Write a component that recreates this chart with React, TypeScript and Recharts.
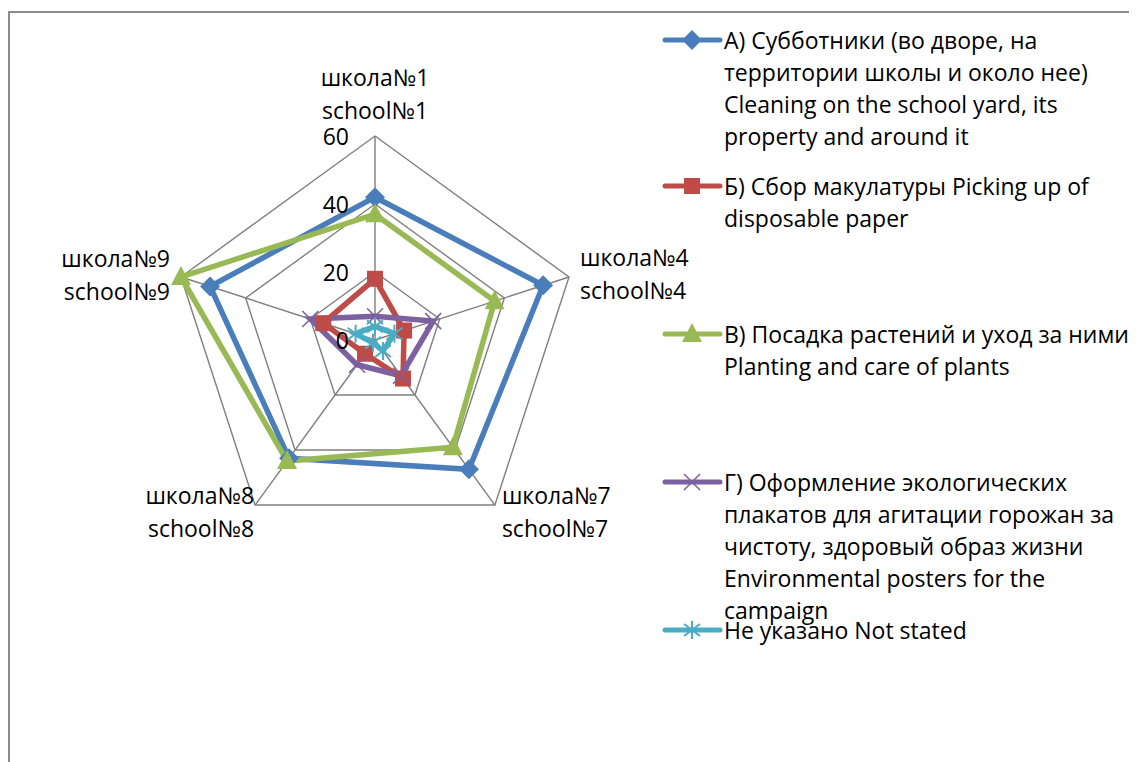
import React from 'react';
import {
  RadarChart,
  Radar,
  PolarGrid,
  PolarAngleAxis,
  PolarRadiusAxis,
  Legend,
} from 'recharts';

// School names, two lines each
const schoolsRu = ['школа№1', 'школа№4', 'школа№7', 'школа№8', 'школа№9'];
const schoolsEn = ['school№1', 'school№4', 'school№7', 'school№8', 'school№9'];

// Answers per activity, one value per school
const cleaning = [42, 52, 47, 43, 51];
const paper = [18, 9, 14, 5, 16];
const planting = [37, 37, 39, 44, 60];
const posters = [7, 18, 13, 9, 20];
const notStated = [4, 6, 4, 1, 6];

const radiusTicks = [0, 20, 40, 60];

const data = schoolsRu.map((s, i) => ({
  school: s,
  cleaning: cleaning[i],
  paper: paper[i],
  planting: planting[i],
  posters: posters[i],
  notStated: notStated[i],
}));

const FONT = '"Open Sans", sans-serif';
const FS = 23;
const CX = 365;
const CY = 327;
const R = 204;

type MarkerKind = 'diamond' | 'square' | 'triangle' | 'cross' | 'star';

const Marker = ({ kind, x, y, color }: { kind: MarkerKind; x: number; y: number; color: string }) => {
  switch (kind) {
    case 'diamond':
      return <polygon points={`${x},${y - 10} ${x + 10},${y} ${x},${y + 10} ${x - 10},${y}`} fill={color} />;
    case 'square':
      return <rect x={x - 8} y={y - 8} width={16} height={16} fill={color} />;
    case 'triangle':
      return <polygon points={`${x},${y - 11} ${x + 10},${y + 8} ${x - 10},${y + 8}`} fill={color} />;
    case 'cross':
      return (
        <g stroke={color} strokeWidth={1.6}>
          <line x1={x - 8} y1={y - 8} x2={x + 8} y2={y + 8} />
          <line x1={x - 8} y1={y + 8} x2={x + 8} y2={y - 8} />
        </g>
      );
    default:
      return (
        <g stroke={color} strokeWidth={2}>
          <line x1={x} y1={y - 9} x2={x} y2={y + 9} />
          <line x1={x - 8} y1={y - 6} x2={x + 8} y2={y + 6} />
          <line x1={x - 8} y1={y + 6} x2={x + 8} y2={y - 6} />
        </g>
      );
  }
};

const series: { key: string; color: string; marker: MarkerKind; lines: string[]; top: number }[] = [
  {
    key: 'cleaning',
    color: '#4A7EBB',
    marker: 'diamond',
    lines: [
      'А) Субботники (во дворе, на',
      'территории школы и около нее)',
      'Cleaning on the school yard, its',
      'property and around it',
    ],
    top: 27,
  },
  {
    key: 'paper',
    color: '#BE4B48',
    marker: 'square',
    lines: ['Б) Сбор макулатуры  Picking up of', 'disposable paper'],
    top: 173,
  },
  {
    key: 'planting',
    color: '#98B954',
    marker: 'triangle',
    lines: ['В) Посадка растений и уход за ними', 'Planting and care of plants'],
    top: 321,
  },
  {
    key: 'posters',
    color: '#7D60A0',
    marker: 'cross',
    lines: [
      'Г) Оформление экологических',
      'плакатов для агитации горожан за',
      'чистоту, здоровый образ жизни',
      'Environmental posters for the',
      'campaign',
    ],
    top: 469,
  },
  {
    key: 'notStated',
    color: '#4BACC6',
    marker: 'star',
    lines: ['Не указано Not stated'],
    top: 617,
  },
];

// label placement around each pentagon corner
const labelPos = [
  { dx: 0, dy: -59, anchor: 'middle' },
  { dx: 11, dy: -20, anchor: 'start' },
  { dx: 7, dy: -10, anchor: 'start' },
  { dx: -1, dy: -10, anchor: 'end' },
  { dx: -11, dy: -19, anchor: 'end' },
];

const AngleTick = (props: any) => {
  const i = props.index;
  const a = ((90 - i * 72) * Math.PI) / 180;
  const vx = CX + R * Math.cos(a);
  const vy = CY - R * Math.sin(a);
  const p = labelPos[i];
  return (
    <text
      x={vx + p.dx}
      y={vy + p.dy}
      textAnchor={p.anchor as any}
      dominantBaseline="central"
      fontFamily={FONT}
      fontSize={FS}
      fill="#000"
    >
      <tspan x={vx + p.dx} dy={0}>{schoolsRu[i]}</tspan>
      <tspan x={vx + p.dx} dy={33}>{schoolsEn[i]}</tspan>
    </text>
  );
};

const RadiusTick = (props: any) => (
  <text
    x={props.x - 26}
    y={props.y}
    textAnchor="end"
    dominantBaseline="central"
    fontFamily={FONT}
    fontSize={FS}
    fill="#000"
  >
    {props.payload.value}
  </text>
);

const LegendContent = () => (
  <svg width={485} height={660}>
    {series.map((s) => (
      <g key={s.key}>
        <line x1={15} y1={s.top} x2={70} y2={s.top} stroke={s.color} strokeWidth={5} strokeLinecap="round" />
        <Marker kind={s.marker} x={42} y={s.top} color={s.color} />
        {s.lines.map((l, j) => (
          <text
            key={j}
            x={74}
            y={s.top + j * 32}
            dominantBaseline="central"
            fontFamily={FONT}
            fontSize={FS}
            fill="#000"
          >
            {l}
          </text>
        ))}
      </g>
    ))}
  </svg>
);

export default function App() {
  return (
    <div
      style={{
        marginTop: 3,
        width: 1200,
        height: 800,
        borderTop: '2px solid #8c8c8c',
        borderLeft: '2px solid #8c8c8c',
        background: '#fff',
      }}
    >
      <RadarChart
        width={1125}
        height={760}
        data={data}
        cx={CX}
        cy={CY}
        outerRadius={R}
        startAngle={90}
        endAngle={-270}
      >
        <PolarGrid gridType="polygon" stroke="#7f7f7f" strokeWidth={1.4} />
        <PolarAngleAxis dataKey="school" tick={AngleTick} tickLine={false} axisLine={false} />
        <PolarRadiusAxis
          angle={90}
          domain={[0, 60]}
          ticks={radiusTicks as any}
          tickCount={4}
          tick={RadiusTick}
          tickLine={false}
          axisLine={false}
        />
        {series.map((s) => (
          <Radar
            key={s.key}
            dataKey={s.key}
            stroke={s.color}
            strokeWidth={5.5}
            fill="none"
            fillOpacity={0}
            isAnimationActive={false}
            dot={(p: any) => (
              <Marker key={`${s.key}-${p.index}`} kind={s.marker} x={p.cx} y={p.cy} color={s.color} />
            )}
          />
        ))}
        <Legend
          content={<LegendContent />}
          wrapperStyle={{ left: 640, top: 0, width: 485, height: 660 }}
        />
      </RadarChart>
    </div>
  );
}
